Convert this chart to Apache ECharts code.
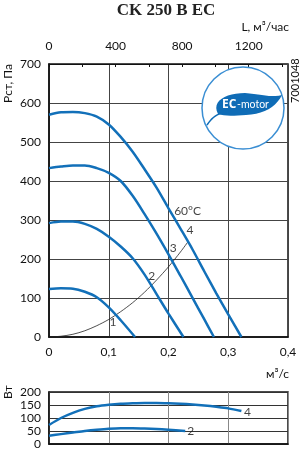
<!DOCTYPE html>
<html><head><meta charset="utf-8">
<script src="https://cdn.jsdelivr.net/npm/echarts@6/dist/echarts.min.js"></script>
<style>html,body{margin:0;padding:0;background:#fff}#c{width:304px;height:453px}</style>
</head><body><div id="c"></div>
<script>
// flow Q, m3/s ; pressure Pa
const curve1 = [[0,123],[0.02,125],[0.04,124],[0.06,116],[0.08,102],[0.1,76],[0.12,43],[0.144,0]];
const curve2 = [[0,292],[0.02,296],[0.04,296],[0.06,290],[0.08,277],[0.1,257],[0.12,232],[0.14,202],[0.16,160],[0.18,110],[0.2,60],[0.225,0]];
const curve3 = [[0,433],[0.02,437],[0.04,440],[0.06,440],[0.08,433],[0.1,421],[0.12,400],[0.14,362],[0.16,315],[0.18,265],[0.2,212],[0.22,157],[0.24,101],[0.26,45],[0.276,0]];
const curve4 = [[0,570],[0.02,576],[0.04,577],[0.06,574],[0.08,565],[0.1,545],[0.12,513],[0.14,475],[0.16,430],[0.18,383],[0.2,330],[0.22,278],[0.24,225],[0.26,168],[0.28,112],[0.3,58],[0.322,0]];
const systemCurve = [[0,0],[0.02,2],[0.04,7],[0.06,16],[0.08,29],[0.1,45],[0.12,65],[0.14,88],[0.16,115],[0.18,146],[0.2,180],[0.22,218],[0.233,245]];
const curveLabels = [[0.107,39,'1'],[0.172,157,'2'],[0.208,227,'3'],[0.236,274,'4'],[0.232,322,'60°C']];
// power W
const power2 = [[0,32],[0.02,38],[0.04,44],[0.06,50],[0.08,55],[0.1,59],[0.12,61],[0.14,61],[0.16,60],[0.18,58],[0.2,55],[0.228,50]];
const power4 = [[0,73],[0.02,100],[0.04,120],[0.06,135],[0.08,145],[0.1,151],[0.12,155],[0.14,157],[0.16,158],[0.18,158],[0.2,157],[0.22,155],[0.24,152],[0.26,148],[0.28,143],[0.3,137],[0.322,127]];
const powerLabels = [[0.332,124,'4'],[0.237,48,'2']];
const flowTicks = {min:0,max:0.4,interval:0.1};
const pressureTicks = {min:0,max:700,interval:100};
const powerTicks = {min:0,max:200,interval:50};
const airflowTicks = {min:0,max:1400,interval:200,labelEvery:400};

const BLUE = '#1270b9';
const FONT = 'Lato';
const chart = echarts.init(document.getElementById('c'), null, {renderer:'canvas'});
const axLabel = {color:'#111', fontSize:12, fontFamily:FONT};
const line = (data, grid) => ({type:'line', data, xAxisIndex:grid, yAxisIndex:grid, smooth:0.3, symbol:'none', lineStyle:{color:BLUE, width:2.5}, z:3});
const lbl = (data, grid) => ({type:'scatter', data, xAxisIndex:grid, yAxisIndex:grid, symbolSize:0, silent:true,
  label:{show:true, position:'inside', formatter:p=>p.value[2], color:'#111', fontSize:12, fontFamily:FONT}, z:5});

// logo leaf outline (sampled cubic beziers)
function bez(p0,c1,c2,p1,n){const out=[];for(let i=0;i<=n;i++){const t=i/n,u=1-t;
  out.push([u*u*u*p0[0]+3*u*u*t*c1[0]+3*u*t*t*c2[0]+t*t*t*p1[0], u*u*u*p0[1]+3*u*u*t*c1[1]+3*u*t*t*c2[1]+t*t*t*p1[1]]);}return out;}
const leaf = [].concat(
  bez([218,114],[211,101],[226,93],[245,93],12),
  bez([245,93],[261,94],[271,98],[282,95],10),
  bez([282,95],[276,107],[264,114],[246,115],10),
  bez([246,115],[235,116],[225,116],[218,114],8));
const stem = bez([222,113],[215,115],[211,119],[207,125],8);

chart.setOption({
  animation:false,
  grid:[
    {left:49, top:64, width:239, height:273, show:true, borderColor:'#111', borderWidth:1.5},
    {left:49, top:392, width:239, height:52, show:true, borderColor:'#111', borderWidth:1.5},
    {left:49, top:57, width:233, height:7}
  ],
  xAxis:[
    {gridIndex:0, type:'value', min:flowTicks.min, max:flowTicks.max, interval:flowTicks.interval,
      axisLine:{lineStyle:{color:'#111', width:1.5}}, axisTick:{show:false},
      axisLabel:Object.assign({margin:9, formatter:v=>String(v).replace('.',',')}, axLabel),
      splitLine:{lineStyle:{color:'#444', width:1}}},
    {gridIndex:1, type:'value', min:flowTicks.min, max:flowTicks.max, interval:flowTicks.interval,
      axisLine:{lineStyle:{color:'#111', width:1.5}}, axisTick:{show:false}, axisLabel:{show:false},
      splitLine:{lineStyle:{color:'#888', width:1}}},
    {gridIndex:2, type:'value', position:'top', min:airflowTicks.min, max:airflowTicks.max, interval:airflowTicks.interval,
      axisLine:{show:true, lineStyle:{color:'#111', width:1}}, axisTick:{show:true, inside:true, length:3, lineStyle:{color:'#111'}},
      axisLabel:Object.assign({margin:5, formatter:v=>(v % airflowTicks.labelEvery === 0 ? String(v) : '')}, axLabel),
      splitLine:{show:false}}
  ],
  yAxis:[
    {gridIndex:0, type:'value', min:pressureTicks.min, max:pressureTicks.max, interval:pressureTicks.interval,
      axisLine:{show:true, lineStyle:{color:'#111', width:1.5}}, axisTick:{show:false},
      axisLabel:Object.assign({margin:8}, axLabel), splitLine:{lineStyle:{color:'#444', width:1}}},
    {gridIndex:1, type:'value', min:powerTicks.min, max:powerTicks.max, interval:powerTicks.interval,
      axisLine:{show:true, lineStyle:{color:'#111', width:1.5}}, axisTick:{show:false},
      axisLabel:Object.assign({margin:8}, axLabel), splitLine:{lineStyle:{color:'#333', width:1}}},
    {gridIndex:2, type:'value', min:0, max:1, show:false}
  ],
  series:[
    {type:'line', data:systemCurve, xAxisIndex:0, yAxisIndex:0, smooth:0.3, symbol:'none', lineStyle:{color:'#222', width:0.8}, z:2},
    line(curve1,0), line(curve2,0), line(curve3,0), line(curve4,0),
    lbl(curveLabels,0),
    line(power2,1), line(power4,1),
    lbl(powerLabels,1)
  ],
  graphic:[
    {type:'text', x:166, y:2, style:{text:'CK 250 B EC', font:'bold 17px "Liberation Serif"', fill:'#222', textAlign:'center'}},
    {type:'text', right:15, top:21, style:{text:'L, м³/час', font:'12px '+FONT, fill:'#111'}},
    {type:'text', x:2, y:103, rotation:Math.PI/2, style:{text:'Pст, Па', font:'12px '+FONT, fill:'#111', textVerticalAlign:'top'}},
    {type:'text', x:290, y:103, rotation:Math.PI/2, style:{text:'7001048', font:'11px '+FONT, fill:'#111', textVerticalAlign:'top'}},
    {type:'text', right:15, top:368, style:{text:'м³/с', font:'12px '+FONT, fill:'#111'}},
    {type:'text', x:2, y:399, rotation:Math.PI/2, style:{text:'Вт', font:'12px '+FONT, fill:'#111', textVerticalAlign:'top'}},
    {type:'circle', shape:{cx:243, cy:108, r:41}, style:{fill:'#fff', stroke:'#3a8ed3', lineWidth:1.5}, z:10},
    {type:'polygon', shape:{points:leaf}, style:{fill:'#0f6cb6'}, z:11},
    {type:'polyline', shape:{points:stem}, style:{stroke:'#0f6cb6', lineWidth:1.5, fill:null}, z:11},
    {type:'text', x:222, y:105, style:{text:'EC', font:'bold 12px "Open Sans"', fill:'#fff', textVerticalAlign:'middle'}, z:12},
    {type:'text', x:237, y:105, style:{text:'-motor', font:'10.5px Lato', fill:'#fff', textVerticalAlign:'middle'}, z:12}
  ]
});
</script></body></html>
